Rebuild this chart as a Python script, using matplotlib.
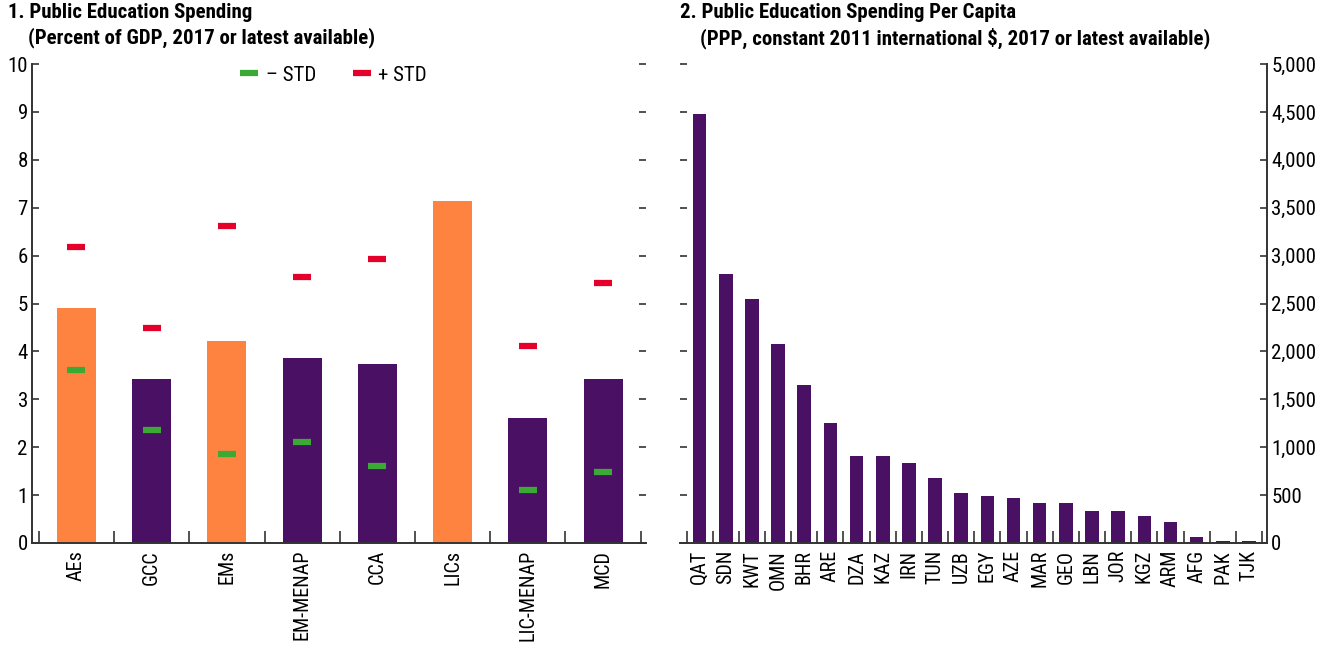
import matplotlib
matplotlib.use("Agg")
import matplotlib.pyplot as plt
from matplotlib.lines import Line2D
from matplotlib.ticker import FuncFormatter, MultipleLocator
import numpy as np

# --------------------------------------------------------------------------- #
# Data
# --------------------------------------------------------------------------- #
groups = ["AEs", "GCC", "EMs", "EM-MENAP", "CCA", "LICs", "LIC-MENAP", "MCD"]
spend_gdp = [4.91, 3.42, 4.22, 3.86, 3.74, 7.14, 2.61, 3.42]
minus_std = [3.61, 2.36, 1.86, 2.11, 1.61, np.nan, 1.11, 1.48]
plus_std = [6.18, 4.49, 6.62, 5.55, 5.93, np.nan, 4.11, 5.43]
is_benchmark = [True, False, True, False, False, True, False, False]

countries = ["QAT", "SDN", "KWT", "OMN", "BHR", "ARE", "DZA", "KAZ", "IRN", "TUN",
             "UZB", "EGY", "AZE", "MAR", "GEO", "LBN", "JOR", "KGZ", "ARM", "AFG",
             "PAK", "TJK"]
spend_pc = [4480, 2808, 2547, 2077, 1645, 1253, 906, 906, 832, 675,
            518, 487, 466, 413, 413, 329, 329, 280, 224, 66,
            20, 18]

ORANGE = "#FF8340"
PURPLE = "#4A1064"
GREEN = "#3BAA35"
RED = "#E4002B"
AXCOL = "#333333"

plt.rcParams["font.family"] = ["Roboto Condensed", "Liberation Sans", "DejaVu Sans"]
plt.rcParams["font.size"] = 15

W, H = 1328, 646
fig = plt.figure(figsize=(W / 100, H / 100), dpi=100)


def px_axes(x0, x1, y_top, y_bot):
    return fig.add_axes([x0 / W, 1 - y_bot / H, (x1 - x0) / W, (y_bot - y_top) / H])


def style_xaxis(ax, n):
    ax.set_xticks(np.arange(n))
    ax.set_xticks(np.arange(n + 1) - 0.5, minor=True)
    ax.tick_params(axis="x", which="major", length=0, pad=5, labelrotation=90,
                   labelsize=14.5)
    ax.tick_params(axis="x", which="minor", length=9, direction="in",
                   color=AXCOL, width=1.2)
    ax.spines["bottom"].set_color(AXCOL)
    ax.spines["bottom"].set_linewidth(1.4)
    ax.spines["top"].set_visible(False)


# --------------------------------------------------------------------------- #
# Panel 1: percent of GDP
# --------------------------------------------------------------------------- #
ax1 = px_axes(32, 646, 64, 543)
x1 = np.arange(len(groups))
colors = [ORANGE if b else PURPLE for b in is_benchmark]
ax1.bar(x1, spend_gdp, width=0.52, color=colors, zorder=2)
ax1.plot(x1, minus_std, linestyle="none", marker="_", markersize=13,
         markeredgewidth=4.5, color=GREEN, zorder=3)
ax1.plot(x1, plus_std, linestyle="none", marker="_", markersize=13,
         markeredgewidth=4.5, color=RED, zorder=3)
ax1.set_xlim(-0.59, 7.57)
ax1.set_ylim(0, 10)
ax1.yaxis.set_major_locator(MultipleLocator(1))
ax1.set_xticklabels(groups)
style_xaxis(ax1, len(groups))
ax1.spines["right"].set_visible(False)
ax1.spines["left"].set_color(AXCOL)
ax1.spines["left"].set_linewidth(1.4)
ax1.tick_params(axis="y", direction="in", length=5, color=AXCOL, width=1.2,
                right=True, labelsize=15, pad=3)

handles = [Line2D([], [], linestyle="none", marker="_", markersize=13,
                  markeredgewidth=4.5, color=GREEN),
           Line2D([], [], linestyle="none", marker="_", markersize=13,
                  markeredgewidth=4.5, color=RED)]
ax1.legend(handles, ["\u2013 STD", "+ STD"], ncol=2, frameon=False,
           loc="center", bbox_to_anchor=(0.49, 0.977), fontsize=15,
           handlelength=1.0, handletextpad=0.3, columnspacing=1.7)

# --------------------------------------------------------------------------- #
# Panel 2: per capita
# --------------------------------------------------------------------------- #
ax2 = px_axes(680, 1267, 64, 543)
x2 = np.arange(len(countries))
ax2.bar(x2, spend_pc, width=0.52, color=PURPLE, zorder=2)
ax2.set_xlim(-0.75, 21.69)
ax2.set_ylim(0, 5000)
ax2.yaxis.set_major_locator(MultipleLocator(500))
ax2.yaxis.set_major_formatter(FuncFormatter(lambda v, p: f"{v:,.0f}"))
ax2.set_xticklabels(countries)
style_xaxis(ax2, len(countries))
ax2.spines["left"].set_visible(False)
ax2.spines["right"].set_color(AXCOL)
ax2.spines["right"].set_linewidth(1.4)
ax2.yaxis.tick_right()
ax2.tick_params(axis="y", direction="in", length=5, color=AXCOL, width=1.2,
                left=True, right=True, labelleft=False, labelright=True,
                labelsize=15, pad=3)

# --------------------------------------------------------------------------- #
# Titles
# --------------------------------------------------------------------------- #
title_kw = dict(fontsize=15, fontweight="bold", va="top", ha="left")
fig.text(8 / W, 1 - 3 / H, "1. Public Education Spending", **title_kw)
fig.text(28 / W, 1 - 27 / H, "(Percent of GDP, 2017 or latest available)", **title_kw)
fig.text(680 / W, 1 - 3 / H, "2. Public Education Spending Per Capita", **title_kw)
fig.text(700 / W, 1 - 27 / H,
         "(PPP, constant 2011 international $, 2017 or latest available)", **title_kw)

fig.savefig("out.png", dpi=100)
